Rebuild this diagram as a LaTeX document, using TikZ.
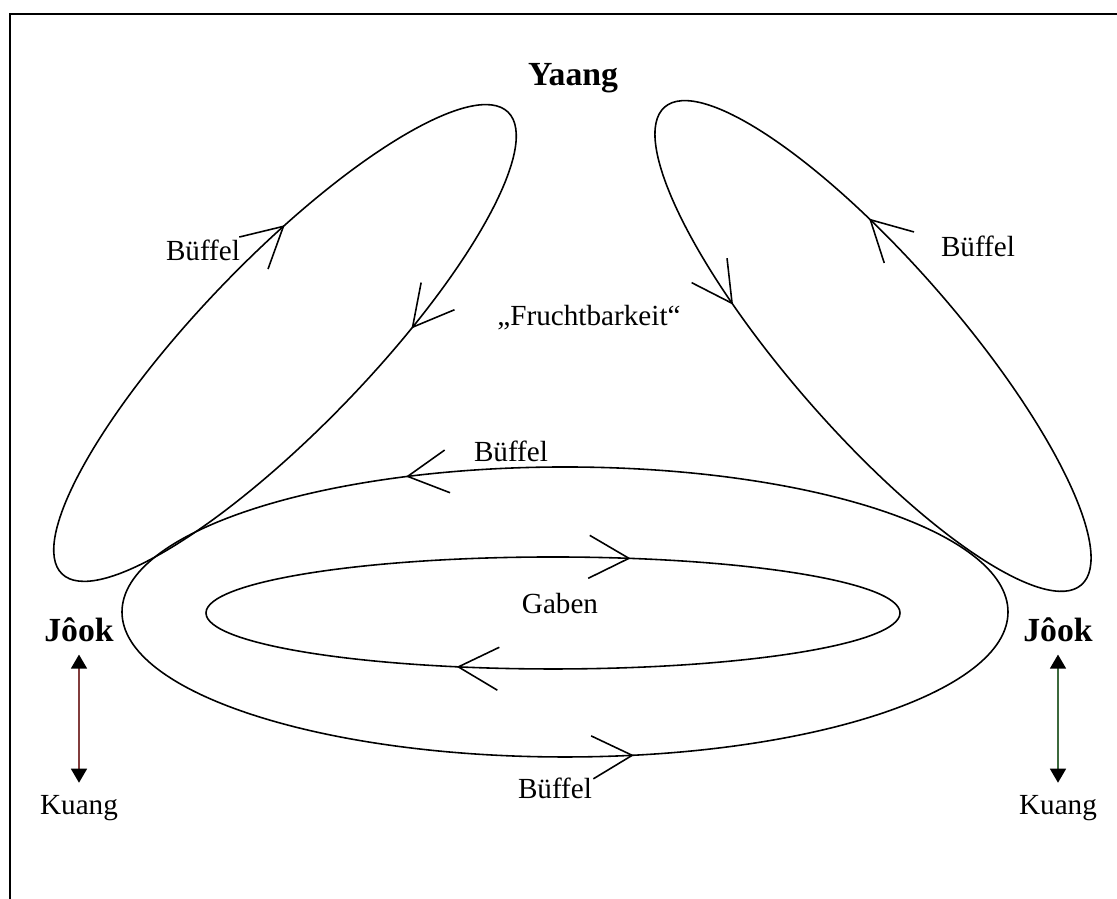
\documentclass[tikz,border=0pt]{standalone}
\usepackage{fontspec}
\setmainfont{Liberation Serif}
\usetikzlibrary{arrows.meta,positioning,decorations.markings}

\definecolor{kuangred}{RGB}{130,60,60}
\definecolor{kuanggreen}{RGB}{60,105,60}

\begin{document}
\begin{tikzpicture}
	[line width=0.45pt, node distance=1.78cm,
		>={Straight Barb[length=4mm,width=4.3mm]},
		lbl/.style={font=\fontsize{8.3}{10}\selectfont},
		place/.style={font=\fontsize{9.6}{11}\selectfont\bfseries},
		kuang/.style={{Triangle[length=4pt,width=4.5pt,color=black]}-{Triangle[length=4pt,width=4.5pt,color=black]}, line width=0.6pt},
		fwd/.style 2 args={postaction={decorate,decoration={markings,
			mark=at position #1 with {\arrow{>}},
			mark=at position #2 with {\arrow{>}}}}},
		back/.style 2 args={postaction={decorate,decoration={markings,
			mark=at position #1 with {\arrowreversed{>}},
			mark=at position #2 with {\arrowreversed{>}}}}}]

	\useasboundingbox (0,0) rectangle (11.17,8.99);
	\clip (0,0) rectangle (11.17,8.99);

	% frame
	\draw[line width=0.7pt] (0.10,-1) -- (0.10,8.85) -- (12,8.85);

	% labels
	\node[place] (yaang) at (5.73,8.21) {Yaang};
	\node[lbl]   (bufUL) at (2.03,6.49) {Büffel};
	\node[lbl]   (frucht) at (5.89,5.81) {„Fruchtbarkeit“};
	\node[lbl]   (bufUR) at (9.78,6.53) {Büffel};
	\node[lbl]   (bufM)  at (5.11,4.48) {Büffel};
	\node[lbl]   (gaben) at (5.60,2.95) {Gaben};
	\node[lbl]   (bufB)  at (5.55,1.11) {Büffel};

	\node[place] (JL) at (0.79,2.69) {Jôok};
	\node[lbl]   (KL) [below of=JL] {Kuang};
	\node[place] (JR) at (10.58,2.69) {Jôok};
	\node[lbl]   (KR) [below of=JR] {Kuang};

	\draw[kuang, kuangred]   (JL) -- (KL);
	\draw[kuang, kuanggreen] (JR) -- (KR);

	% cycles
	\draw[fwd={0.331}{0.785}] (5.65,2.87) ellipse [x radius=4.43, y radius=1.45];
	\draw[back={0.196}{0.683}] (5.53,2.86) ellipse [x radius=3.47, y radius=0.56];
	\draw[rotate around={46:(2.85,5.56)}, back={0.189}{0.821}]
		(2.85,5.56) ellipse [x radius=3.21, y radius=0.85];
	\draw[rotate around={-48.9:(8.73,5.53)}, fwd={0.322}{0.66}]
		(8.73,5.53) ellipse [x radius=3.17, y radius=0.85];

\end{tikzpicture}
\end{document}
